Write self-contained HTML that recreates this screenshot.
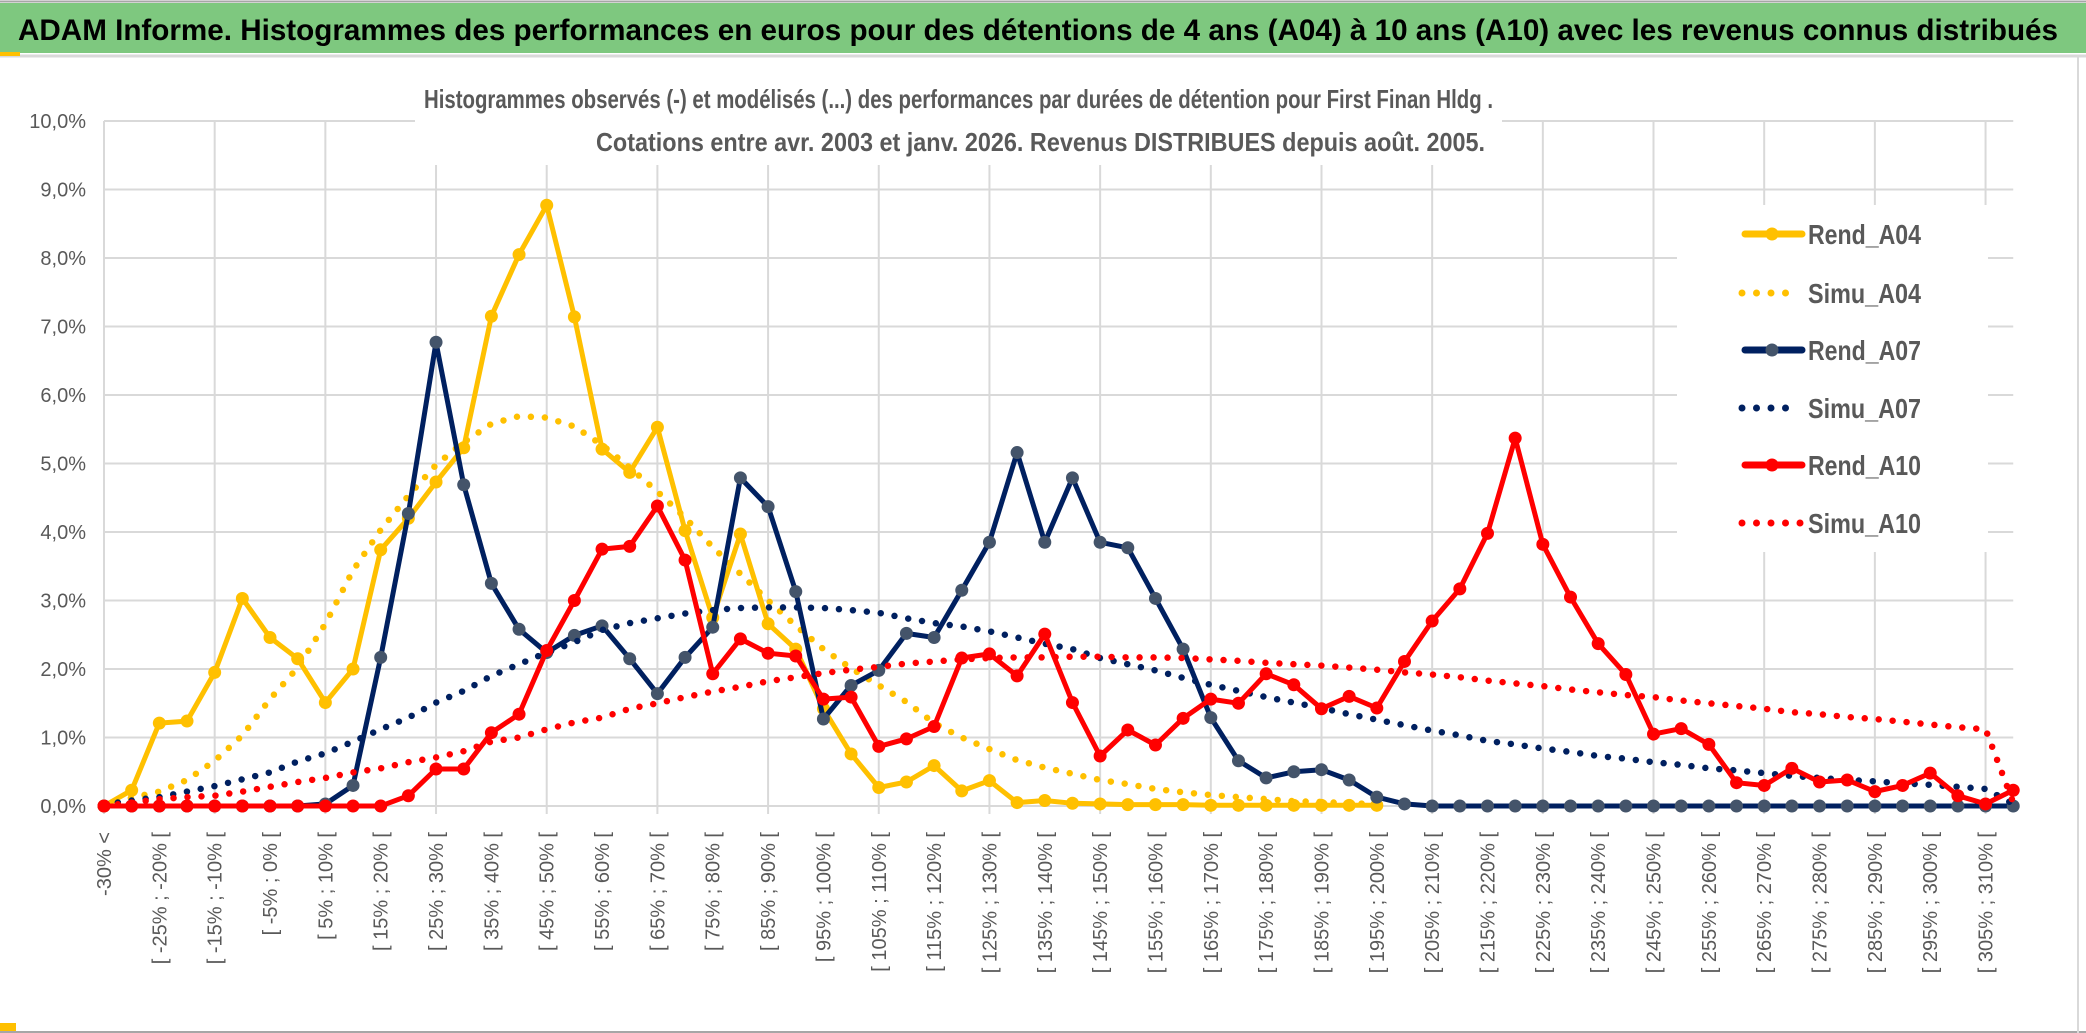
<!DOCTYPE html>
<html><head><meta charset="utf-8"><style>
html,body{margin:0;padding:0;background:#fff;}
svg{display:block;font-family:"Liberation Sans",sans-serif;}
</style></head><body>
<svg id="chart" width="2086" height="1033" viewBox="0 0 2086 1033" xmlns="http://www.w3.org/2000/svg">
<rect x="0" y="0" width="2086" height="1033" fill="#fff"/>
<rect x="0" y="3" width="2086" height="50" fill="#7ec87f"/>
<line x1="0" y1="1.5" x2="2086" y2="1.5" stroke="#a6a6a6" stroke-width="2"/>
<line x1="0" y1="56" x2="2086" y2="56" stroke="#d9d9d9" stroke-width="3"/>
<rect x="0" y="52" width="20" height="4" fill="#ffc000"/>
<rect x="0" y="1023" width="16" height="9" fill="#ffc000"/>
<line x1="0" y1="1032" x2="2086" y2="1032" stroke="#a6a6a6" stroke-width="2"/>
<line x1="2078" y1="56" x2="2078" y2="1033" stroke="#d9d9d9" stroke-width="2"/>
<text x="18" y="40" font-size="30" font-weight="bold" fill="#000" textLength="2040" lengthAdjust="spacingAndGlyphs">ADAM Informe. Histogrammes des performances en euros pour des détentions de 4 ans (A04) à 10 ans (A10) avec les revenus connus distribués</text>
<g id="grid"></g>
<rect x="415" y="95" width="1087" height="70" fill="#fff"/>
<text x="424" y="108" font-size="26" font-weight="bold" fill="#595959" textLength="1069" lengthAdjust="spacingAndGlyphs">Histogrammes observés (-) et modélisés (...) des performances par durées de détention pour First Finan Hldg .</text>
<text x="596" y="151" font-size="26" font-weight="bold" fill="#595959" textLength="889" lengthAdjust="spacingAndGlyphs">Cotations entre avr. 2003 et janv. 2026. Revenus DISTRIBUES depuis août. 2005.</text>
<g id="yaxis"></g>
<g id="xaxis"></g>
<g id="series"></g>
<rect x="1677" y="205" width="311" height="347" fill="#fff"/>
<g id="legend"></g>
</svg>
<script>
const categoryCount = 70;
const yTicks = [0,1,2,3,4,5,6,7,8,9,10];
const yTickLabels = ["0,0%","1,0%","2,0%","3,0%","4,0%","5,0%","6,0%","7,0%","8,0%","9,0%","10,0%"];
const rendA04 = [0,0.23,1.21,1.24,1.95,3.03,2.46,2.15,1.51,2.0,3.74,4.2,4.73,5.23,7.15,8.05,8.77,7.14,5.21,4.87,5.53,4.02,2.75,3.97,2.66,2.29,1.42,0.76,0.27,0.35,0.59,0.22,0.37,0.05,0.08,0.04,0.03,0.02,0.02,0.02,0.01,0.01,0.01,0.01,0.01,0.01,0.01,null,null,null,null,null,null,null,null,null,null,null,null,null,null,null,null,null,null,null,null,null,null,null];
const simuA04 = [0,0.12,0.21,0.38,0.66,1.03,1.56,2.02,2.66,3.44,4.03,4.53,4.98,5.31,5.58,5.69,5.67,5.54,5.27,4.94,4.59,4.21,3.78,3.39,3.0,2.63,2.29,2.01,1.76,1.52,1.21,1.0,0.83,0.67,0.56,0.47,0.38,0.32,0.25,0.2,0.16,0.13,0.1,0.07,0.06,0.04,0.03,null,null,null,null,null,null,null,null,null,null,null,null,null,null,null,null,null,null,null,null,null,null,null];
const rendA07 = [0,0,0,0,0,0,0,0,0.03,0.3,2.17,4.27,6.77,4.69,3.25,2.58,2.24,2.49,2.63,2.15,1.64,2.17,2.61,4.79,4.37,3.13,1.27,1.76,1.98,2.52,2.46,3.15,3.85,5.16,3.85,4.79,3.85,3.77,3.03,2.29,1.29,0.66,0.41,0.5,0.53,0.38,0.13,0.03,0,0,0,0,0,0,0,0,0,0,0,0,0,0,0,0,0,0,0,0,0,0];
const simuA07 = [0.02,0.08,0.13,0.21,0.29,0.39,0.49,0.65,0.77,0.94,1.12,1.29,1.51,1.68,1.9,2.07,2.24,2.39,2.57,2.67,2.74,2.81,2.86,2.89,2.9,2.9,2.89,2.86,2.82,2.74,2.67,2.62,2.55,2.46,2.37,2.29,2.16,2.07,1.98,1.87,1.77,1.68,1.59,1.51,1.43,1.34,1.26,1.18,1.1,1.03,0.95,0.9,0.84,0.79,0.73,0.69,0.64,0.6,0.55,0.52,0.48,0.44,0.41,0.38,0.36,0.33,0.31,0.28,0.25,0.03];
const rendA10 = [0,0,0,0,0,0,0,0,0,0,0,0.15,0.54,0.54,1.07,1.34,2.27,3.0,3.75,3.79,4.38,3.59,1.93,2.44,2.23,2.19,1.56,1.59,0.87,0.98,1.16,2.16,2.22,1.9,2.51,1.51,0.73,1.11,0.89,1.28,1.56,1.5,1.93,1.77,1.42,1.6,1.43,2.11,2.7,3.17,3.98,5.37,3.82,3.05,2.37,1.92,1.05,1.13,0.9,0.34,0.3,0.55,0.35,0.38,0.21,0.3,0.48,0.15,0.03,0.23];
const simuA10 = [0,0.05,0.1,0.13,0.15,0.21,0.28,0.35,0.41,0.49,0.55,0.64,0.71,0.8,0.94,1.0,1.12,1.22,1.29,1.42,1.5,1.59,1.67,1.74,1.82,1.88,1.94,1.99,2.03,2.08,2.11,2.14,2.16,2.17,2.17,2.18,2.18,2.17,2.17,2.16,2.14,2.12,2.09,2.07,2.05,2.02,1.99,1.95,1.92,1.88,1.83,1.79,1.75,1.7,1.66,1.62,1.59,1.54,1.5,1.46,1.42,1.37,1.34,1.3,1.27,1.23,1.19,1.15,1.12,0.05];
const legendNames = ["Rend_A04","Simu_A04","Rend_A07","Simu_A07","Rend_A10","Simu_A10"];

const categories = [];
for (let i = 0; i < categoryCount; i++) {
  if (i === 0) categories.push("-30% <");
  else { const lo = -30 + 5*(i-1); categories.push("[ " + lo + "% ; " + (lo+5) + "% ["); }
}

const NS = "http://www.w3.org/2000/svg";
const X0 = 104, DX = 27.67, Y0 = 806, DY = 68.5;
function xs(i){ return X0 + DX*i; }
function ys(v){ return Y0 - DY*v; }
function mk(tag, attrs, parent){ const e = document.createElementNS(NS, tag); for (const k in attrs) e.setAttribute(k, attrs[k]); parent.appendChild(e); return e; }

const grid = document.getElementById('grid');
const xEnd = xs(categoryCount - 1);
yTicks.forEach(t => {
  const l = mk('line', {x1: X0, x2: xEnd, y1: ys(t), y2: ys(t), stroke: '#d9d9d9', 'stroke-width': 2}, grid);
  
  
});
for (let i = 0; i < categoryCount; i += 4) {
  const l = mk('line', {x1: xs(i), x2: xs(i), y1: ys(10), y2: Y0 + 8, stroke: '#d9d9d9', 'stroke-width': 2}, grid);
  
  
}

const yaxis = document.getElementById('yaxis');
yTicks.forEach((t, k) => {
  const tx = mk('text', {x: 86, y: ys(t) + 7, 'font-size': 20, 'text-anchor': 'end', fill: '#595959'}, yaxis);
  tx.textContent = yTickLabels[k];
  
  
});

const xaxis = document.getElementById('xaxis');
categories.forEach((c, i) => {
  if (i % 2 !== 0) return;
  const x = xs(i) + 7, y = 832;
  const tx = mk('text', {x: x, y: y, 'font-size': 20, 'text-anchor': 'end', fill: '#595959', transform: 'rotate(-90 ' + x + ' ' + y + ')'}, xaxis);
  tx.textContent = c;
  
  
});

const series = document.getElementById('series');
function pathFor(vals){
  let d = '', pen = false;
  vals.forEach((v, i) => {
    if (v === null) { pen = false; return; }
    d += (pen ? 'L' : 'M') + xs(i).toFixed(1) + ' ' + ys(v).toFixed(1) + ' ';
    pen = true;
  });
  return d;
}
function solid(vals, color, mcolor, name){
  const g = mk('g', {}, series);
  
  
  mk('path', {d: pathFor(vals), fill: 'none', stroke: color, 'stroke-width': 5, 'stroke-linejoin': 'round', 'stroke-linecap': 'round'}, g);
  vals.forEach((v, i) => {
    if (v === null) return;
    const c = mk('circle', {cx: xs(i), cy: ys(v), r: 6.5, fill: mcolor}, g);
    
    
  });
}
function dotted(vals, color, name){
  const p = mk('path', {d: pathFor(vals), fill: 'none', stroke: color, 'stroke-width': 6.5, 'stroke-linecap': 'round', 'stroke-dasharray': '0 14'}, series);
  
  
}
solid(rendA04, '#ffc000', '#ffc000', 'rend-a04-line');
dotted(simuA04, '#ffc000', 'simu-a04-line');
solid(rendA07, '#002060', '#44546a', 'rend-a07-line');
dotted(simuA07, '#002060', 'simu-a07-line');
solid(rendA10, '#ff0000', '#ff0000', 'rend-a10-line');
dotted(simuA10, '#ff0000', 'simu-a10-line');

const legend = document.getElementById('legend');
const legColors = ['#ffc000','#ffc000','#002060','#002060','#ff0000','#ff0000'];
const legMarker = ['#ffc000',null,'#44546a',null,'#ff0000',null];
const legRows = [234,293,350,408,465,523];
legendNames.forEach((n, k) => {
  const g = mk('g', {}, legend);
  
  
  const y = legRows[k];
  if (legMarker[k]) {
    mk('line', {x1: 1745, x2: 1802, y1: y, y2: y, stroke: legColors[k], 'stroke-width': 7, 'stroke-linecap': 'round'}, g);
    mk('circle', {cx: 1772, cy: y, r: 6.5, fill: legMarker[k]}, g);
  } else {
    const nd = (k === 5) ? 5 : 4;
    for (let j = 0; j < nd; j++) mk('circle', {cx: 1742 + j*14.5, cy: y, r: 3.5, fill: legColors[k]}, g);
  }
  const t = mk('text', {x: 1808, y: y + 10, 'font-size': 28, 'font-weight': 'bold', fill: '#595959', textLength: 113, lengthAdjust: 'spacingAndGlyphs'}, g);
  t.textContent = n;
});
</script>
</body></html>
